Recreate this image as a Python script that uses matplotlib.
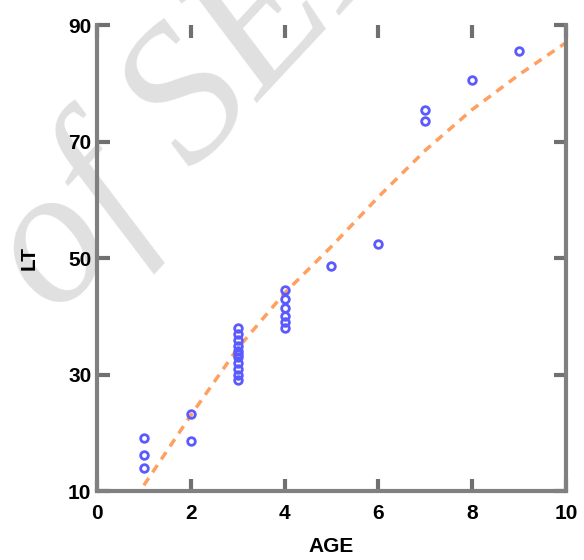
import matplotlib
matplotlib.use("Agg")
import matplotlib.pyplot as plt

age_obs = [1, 1, 1, 2, 2,
           3, 3, 3, 3, 3, 3, 3, 3, 3, 3, 3,
           4, 4, 4, 4, 4, 4,
           5, 6, 7, 7, 8, 9]
lt_obs = [19.1, 16.2, 14.0, 23.2, 18.6,
          38.0, 37.0, 36.0, 35.0, 34.0, 33.5, 33.0, 32.0, 31.0, 30.0, 29.0,
          44.5, 43.0, 41.5, 40.0, 39.0, 38.0,
          48.7, 52.4, 75.5, 73.5, 80.6, 85.6]

# fitted growth curve
age_fit = [1, 2, 3, 4, 5, 6, 7, 8, 9, 10]
lt_fit = [11.0, 23.0, 34.5, 44.0, 52.0, 60.5, 68.5, 75.5, 81.5, 87.0]

xticks = [0, 2, 4, 6, 8, 10]
yticks = [10, 30, 50, 70, 90]

plt.rcParams['font.family'] = ['Liberation Sans', 'DejaVu Sans']

fig = plt.figure(figsize=(5.84, 5.6), dpi=100)

# watermark, kept behind the axes
fig.text(56 / 584, 1 - 318 / 560, "of SEF", fontsize=140, family="Liberation Serif",
         style="italic", color="#e0e0e0", rotation=47, rotation_mode="anchor",
         ha="left", va="baseline", zorder=-1)

ax = fig.add_axes([0.166, 0.123, 0.803, 0.832])
ax.set_facecolor("none")

ax.plot(age_fit, lt_fit, color="#ffa060", lw=2.5, ls=(0, (2.5, 2.0)), zorder=2)
ax.plot(age_obs, lt_obs, ls="none", marker="o", ms=5.5, mfc="none",
        mec="#5a5aff", mew=2, zorder=3)

ax.set_xlim(0, 10)
ax.set_ylim(10, 90)
ax.set_xticks(xticks)
ax.set_yticks(yticks)
ax.tick_params(direction="in", length=9, width=3, color="#707070",
               top=True, right=True, labelsize=15)
ax.tick_params(axis="x", pad=9)
ax.tick_params(axis="y", pad=4)
for lbl in ax.get_xticklabels() + ax.get_yticklabels():
    lbl.set_fontweight("bold")

for side in ["left", "right", "bottom"]:
    ax.spines[side].set_color("#808080")
    ax.spines[side].set_linewidth(3)
ax.spines["top"].set_visible(False)

ax.set_xlabel("AGE", fontsize=15, fontweight="bold")
ax.set_ylabel("LT", fontsize=15, fontweight="bold")
ax.xaxis.set_label_coords(0.5, -0.099)
ax.yaxis.set_label_coords(-0.125, 0.5)

fig.savefig("out.png", dpi=100)
